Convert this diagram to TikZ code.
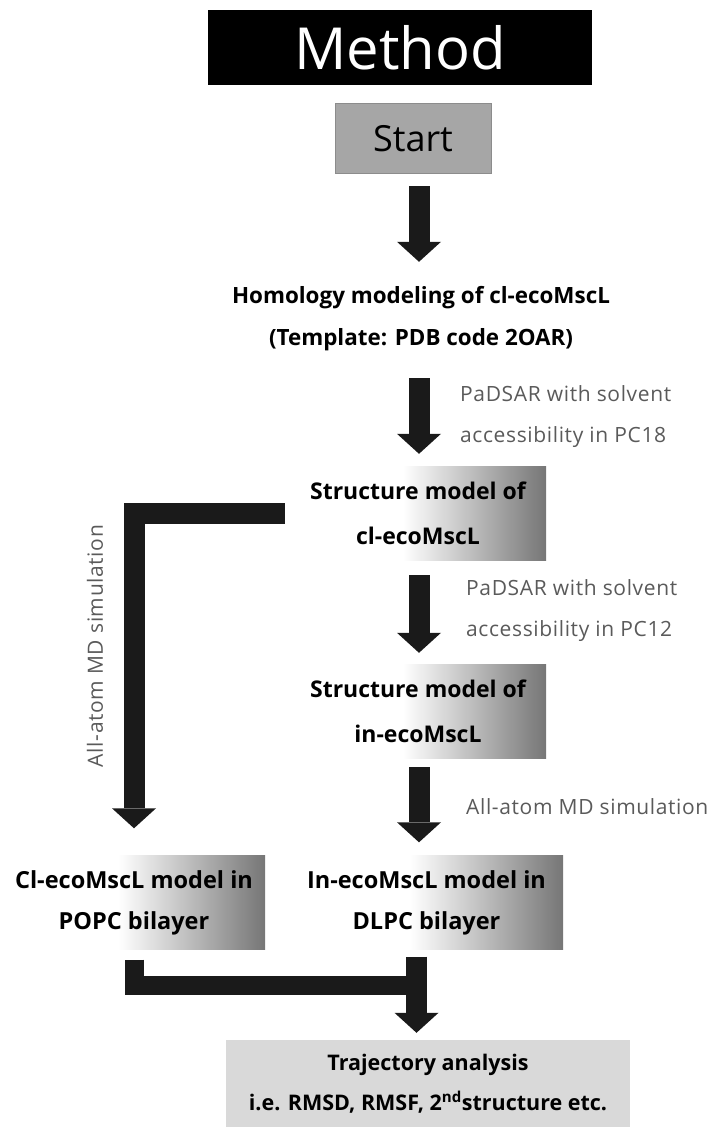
\documentclass[tikz,border=0pt]{standalone}
\usepackage{fontspec}
\setmainfont{Open Sans}
\newfontfamily\notefont[LetterSpace=3]{Open Sans}
\usepackage{tikz}
\usetikzlibrary{arrows.meta,positioning,calc}
\definecolor{Ink}{HTML}{1A1A1A}
\definecolor{NoteGray}{HTML}{5A5A5A}
\definecolor{StartGray}{HTML}{A6A6A6}
\definecolor{StartEdge}{HTML}{8C8C8C}
\definecolor{TrajGray}{HTML}{D9D9D9}
\definecolor{FadeGray}{HTML}{767676}
\pgfdeclarehorizontalshading{boxfade}{100bp}{color(0bp)=(white); color(25bp)=(white); color(47bp)=(white); color(75bp)=(FadeGray); color(100bp)=(FadeGray)}
\tikzset{
  blockarrow/.style={draw=Ink, line width=21pt, -{Triangle[length=20pt,width=44pt,line width=0pt]}},
  blockbar/.style={draw=Ink, line width=19pt},
  fadebox/.style={shading=boxfade, align=center, inner sep=0pt, minimum height=94pt, font=\bfseries\fontsize{23}{45}\selectfont},
  notetext/.style={anchor=west, align=left, text=NoteGray, inner sep=0pt, font=\notefont\fontsize{21}{41}\selectfont},
}
\begin{document}
\begin{tikzpicture}[x=1pt,y=-1pt]
\path[use as bounding box] (0,0) rectangle (716,1131);
\coordinate (spine) at (419,0);
\coordinate (join) at (416.5,985);

\node[fill=black, text=white, minimum width=384pt, minimum height=75pt, inner sep=0pt, font=\fontsize{58}{60}\selectfont] (title) at (400,47.5) {Method};
\node[fill=StartGray, draw=StartEdge, line width=1pt, minimum width=156pt, minimum height=70pt, inner sep=0pt, font=\fontsize{36}{40}\selectfont] (start) at (413,139) {Start};

\node[align=center, minimum height=100pt, inner sep=0pt, font=\bfseries\fontsize{22.4}{42}\selectfont] (homol) at (421,319) {Homology modeling of cl-ecoMscL\\(Template: PDB code 2OAR)};
\node[fadebox, minimum width=256pt] (clmodel) at (418,513) {Structure model of\\cl-ecoMscL};
\node[fadebox, minimum width=256pt] (inmodel) at (418,711) {Structure model of\\in-ecoMscL};
\node[fadebox, minimum width=262pt, font=\bfseries\fontsize{23.5}{41}\selectfont] (popc) at (134,902.5) {Cl-ecoMscL model in\\POPC bilayer};
\node[fadebox, minimum width=273pt, font=\bfseries\fontsize{23.5}{41}\selectfont] (dlpc) at (426.5,902.5) {In-ecoMscL model in\\DLPC bilayer};
\node[fill=TrajGray, minimum width=404pt, minimum height=87pt, inner sep=0pt, align=center, font=\bfseries\fontsize{21.5}{40}\selectfont] (traj) at (428,1083.5) {Trajectory analysis\\i.e. RMSD, RMSF, 2\textsuperscript{nd}structure etc.};

% labels beside the arrows
\node[notetext] (note18) at (460,417) {PaDSAR with solvent\\accessibility in PC18};
\node[notetext] (note12) at (466,611) {PaDSAR with solvent\\accessibility in PC12};
\node[notetext] (notemd) at (466,807) {All-atom MD simulation};
\node[notetext, anchor=center, rotate=90] (notemdl) at (95,646) {All-atom MD simulation};

% main flow
\draw[blockarrow, shorten <=12pt, shorten >=7pt] (start.south -| spine) -- (homol.north -| spine);
\draw[blockarrow, shorten <=9pt, shorten >=12pt] (homol.south -| spine) -- (clmodel.north -| spine);
\draw[blockarrow, shorten <=15pt, shorten >=11pt] (clmodel.south -| spine) -- (inmodel.north -| spine);
\draw[blockarrow, shorten <=9pt, shorten >=13pt] (inmodel.south -| spine) -- (dlpc.north -| spine);
\draw[blockarrow, shorten <=5pt, shorten >=27pt] (clmodel.west) -| (popc.north);

% merge into the analysis
\draw[blockbar] ($(popc.south)+(0,10)$) |- ($(join)+(9.5,0)$);
\draw[blockarrow, shorten >=7pt] ($(dlpc.south -| join)+(0,7)$) -- (traj.north -| join);
\end{tikzpicture}
\end{document}
